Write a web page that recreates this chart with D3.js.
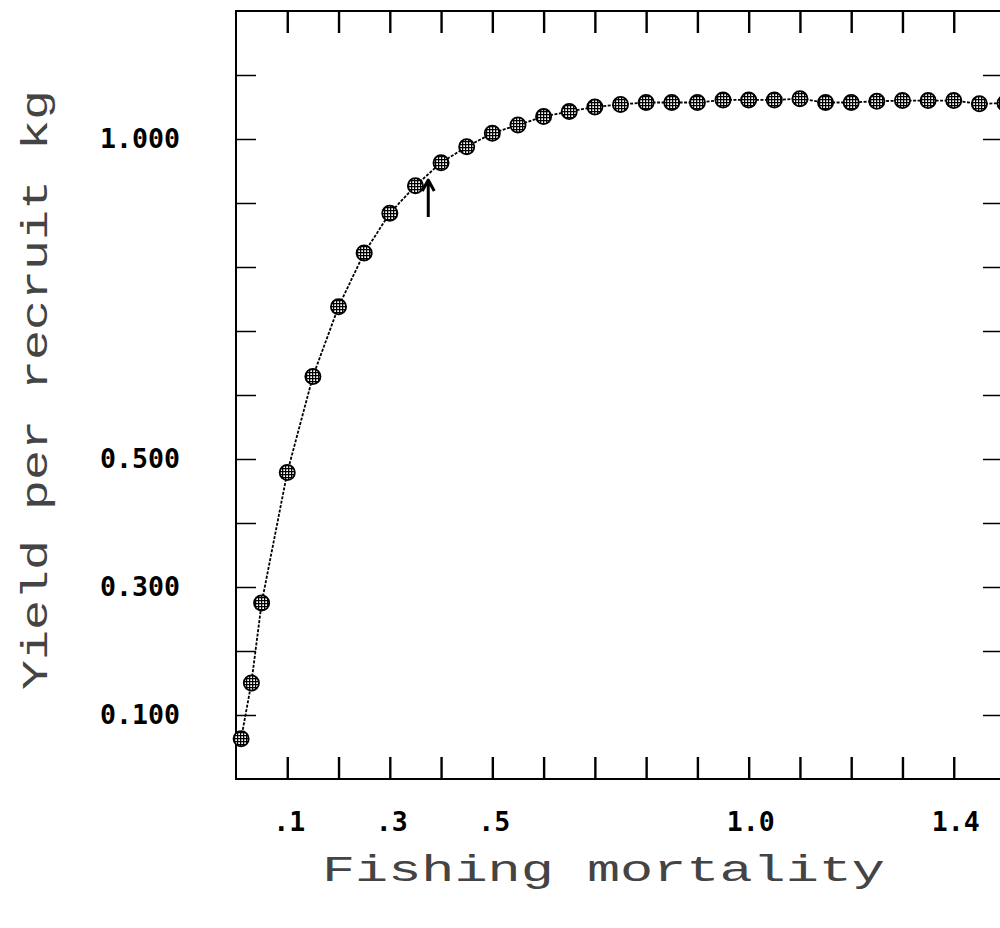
<!DOCTYPE html>
<html>
<head>
<meta charset="utf-8">
<script src="https://cdn.jsdelivr.net/npm/d3@7"></script>
<style>
  body { margin: 0; background: #fff; }
  svg { display: block; }
</style>
</head>
<body>
<svg id="chart" width="1000" height="928"></svg>
<script>
// fishing mortality F and yield per recruit (kg)
var fValues = [0.01, 0.03, 0.05, 0.10, 0.15, 0.20, 0.25, 0.30, 0.35, 0.40, 0.45, 0.50,
               0.55, 0.60, 0.65, 0.70, 0.75, 0.80, 0.85, 0.90, 0.95, 1.00, 1.05, 1.10,
               1.15, 1.20, 1.25, 1.30, 1.35, 1.40, 1.45, 1.50];
var yprValues = [0.063, 0.150, 0.275, 0.479, 0.629, 0.738, 0.822, 0.884, 0.927, 0.963, 0.988, 1.009,
                 1.022, 1.035, 1.043, 1.050, 1.054, 1.057, 1.057, 1.057, 1.061, 1.061, 1.061, 1.063,
                 1.057, 1.057, 1.059, 1.060, 1.060, 1.060, 1.055, 1.056];

var xTicks = [0.1, 0.2, 0.3, 0.4, 0.5, 0.6, 0.7, 0.8, 0.9, 1.0, 1.1, 1.2, 1.3, 1.4];
var yTicks = [0.1, 0.2, 0.3, 0.4, 0.5, 0.6, 0.7, 0.8, 0.9, 1.0, 1.1];
var xLabelValues = [0.1, 0.3, 0.5, 1.0, 1.4];
var xLabelTexts = [".1", ".3", ".5", "1.0", "1.4"];
var yLabelValues = [0.1, 0.3, 0.5, 1.0];

// arrow marking the chosen F
var arrowF = 0.375;
var arrowFrom = 0.878, arrowTo = 0.936;

var svg = d3.select("#chart");

var x = d3.scaleLinear().domain([0, 1.5]).range([236, 1005]);
var y = d3.scaleLinear().domain([0, 1.2]).range([779, 11]);

// hatch fill for the markers
var pat = svg.append("defs").append("pattern")
    .attr("id", "grid").attr("patternUnits", "userSpaceOnUse")
    .attr("width", 3).attr("height", 3);
pat.append("rect").attr("width", 3).attr("height", 3).attr("fill", "#fff");
pat.append("path").attr("d", "M0,0.6H3M0.6,0V3").attr("stroke", "#000").attr("stroke-width", 1.3);

// ticks on all four sides, pointing inwards
function tickAxis(axis, tx, ty, w) {
  var g = svg.append("g").attr("transform", "translate(" + tx + "," + ty + ")").call(axis);
  g.select(".domain").remove();
  g.selectAll(".tick line").attr("stroke", "#000").attr("stroke-width", w);
}
tickAxis(d3.axisBottom(x).tickValues(xTicks).tickSize(-22).tickFormat(""), 0, y(0), 2.4);
tickAxis(d3.axisTop(x).tickValues(xTicks).tickSize(-22).tickFormat(""), 0, y(1.2), 2.4);
tickAxis(d3.axisLeft(y).tickValues(yTicks).tickSize(-20).tickFormat(""), x(0), 0, 1.5);
tickAxis(d3.axisRight(y).tickValues(yTicks).tickSize(-19).tickFormat(""), 1002, 0, 1.5);

// frame
svg.append("rect")
    .attr("x", x(0)).attr("y", y(1.2))
    .attr("width", 1002 - x(0)).attr("height", y(0) - y(1.2))
    .attr("fill", "none").attr("stroke", "#000").attr("stroke-width", 2);

// curve
var pts = fValues.map(function(f, i) { return [f, yprValues[i]]; });
var line = d3.line().x(function(d) { return x(d[0]); }).y(function(d) { return y(d[1]); });
svg.append("path").datum(pts)
    .attr("d", line)
    .attr("fill", "none").attr("stroke", "#000")
    .attr("stroke-width", 1.8).attr("stroke-dasharray", "3,1.5");

svg.selectAll(".dot").data(pts).enter().append("circle")
    .attr("class", "dot")
    .attr("cx", function(d) { return x(d[0]); })
    .attr("cy", function(d) { return y(d[1]); })
    .attr("r", 7.6)
    .attr("fill", "url(#grid)")
    .attr("stroke", "#000").attr("stroke-width", 1.8);

// arrow
var ax = x(arrowF);
svg.append("path")
    .attr("d", "M" + ax + "," + y(arrowFrom) + "V" + y(arrowTo) +
               "M" + (ax - 6) + "," + (y(arrowTo) + 11) + "L" + ax + "," + y(arrowTo) +
               "L" + (ax + 6) + "," + (y(arrowTo) + 11))
    .attr("fill", "none").attr("stroke", "#000").attr("stroke-width", 3)
    .attr("stroke-linejoin", "round");

// tick labels
var fmt = d3.format(".3f");
svg.selectAll(".ylab").data(yLabelValues).enter().append("text")
    .attr("class", "ylab")
    .attr("x", 100).attr("y", function(d) { return y(d) + 9; })
    .attr("textLength", 80).attr("lengthAdjust", "spacingAndGlyphs")
    .style("font-family", "DejaVu Sans Mono").style("font-weight", "bold")
    .style("font-size", "26px")
    .text(fmt);

svg.selectAll(".xlab").data(xLabelValues).enter().append("text")
    .attr("class", "xlab")
    .attr("x", function(d) { return x(d) + 2; }).attr("y", 831)
    .attr("text-anchor", "middle")
    .attr("textLength", function(d, i) { return xLabelTexts[i].length * 16; })
    .attr("lengthAdjust", "spacingAndGlyphs")
    .style("font-family", "DejaVu Sans Mono").style("font-weight", "bold")
    .style("font-size", "26px")
    .text(function(d, i) { return xLabelTexts[i]; });

// axis titles
svg.append("text")
    .attr("x", 322).attr("y", 881)
    .attr("textLength", 563).attr("lengthAdjust", "spacingAndGlyphs")
    .style("font-family", "Liberation Mono").style("font-size", "36px")
    .attr("fill", "#444")
    .text("Fishing mortality");

svg.append("text")
    .attr("transform", "translate(47,690) rotate(-90)")
    .attr("textLength", 600).attr("lengthAdjust", "spacingAndGlyphs")
    .style("font-family", "Liberation Mono").style("font-size", "36px")
    .attr("fill", "#444")
    .text("Yield per recruit kg");
</script>
</body>
</html>
